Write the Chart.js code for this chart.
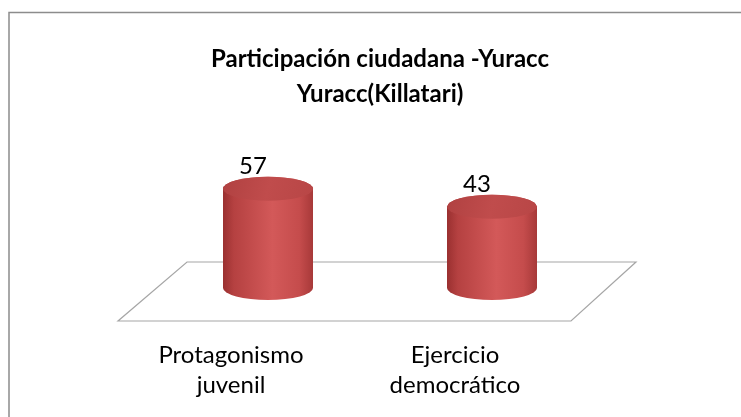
<!DOCTYPE html>
<html>
<head>
<meta charset="utf-8">
<script src="https://cdn.jsdelivr.net/npm/chart.js@4/dist/chart.umd.min.js"></script>
<style>
  html, body { margin: 0; padding: 0; background: #ffffff; }
  #c { display: block; }
</style>
</head>
<body>
<canvas id="c" width="741" height="417"></canvas>
<script>
const categories = [["Protagonismo", "juvenil"], ["Ejercicio", "democrático"]];
const values = [57, 43];
const titleLines = ["Participación ciudadana -Yuracc", "Yuracc(Killatari)"];

const FONT = "Lato, 'Open Sans', sans-serif";

const framePlugin = {
  id: 'frame',
  beforeDraw(chart) {
    const ctx = chart.ctx;
    ctx.save();
    ctx.fillStyle = '#ffffff';
    ctx.fillRect(0, 0, chart.width, chart.height);
    ctx.strokeStyle = '#8c8c8c';
    ctx.lineWidth = 1.5;
    ctx.strokeRect(9, 12.5, chart.width + 20, chart.height + 20);
    ctx.restore();
  }
};

const floorPlugin = {
  id: 'floor',
  beforeDatasetsDraw(chart) {
    const ctx = chart.ctx;
    const a = chart.chartArea;
    const basePx = chart.scales.y.getPixelForValue(chart.scales.y.min);
    const backY = basePx - 26, frontY = basePx + 33;
    ctx.save();
    ctx.beginPath();
    ctx.moveTo(a.left + 31, backY);
    ctx.lineTo(a.right + 32, backY);
    ctx.lineTo(a.right - 33, frontY);
    ctx.lineTo(a.left - 38, frontY);
    ctx.closePath();
    ctx.fillStyle = '#ffffff';
    ctx.fill();
    ctx.strokeStyle = '#a6a6a6';
    ctx.lineWidth = 1.2;
    ctx.stroke();
    ctx.restore();
  }
};

function drawCylinder(ctx, x, top, base, w) {
  const rx = w / 2, ry = 12;
  const left = x - rx, right = x + rx;
  const g = ctx.createLinearGradient(left, 0, right, 0);
  g.addColorStop(0, '#9a3030');
  g.addColorStop(0.12, '#b54141');
  g.addColorStop(0.55, '#d35959');
  g.addColorStop(0.85, '#c54c4c');
  g.addColorStop(1, '#a73939');
  ctx.beginPath();
  ctx.moveTo(left, top);
  ctx.lineTo(left, base);
  ctx.ellipse(x, base, rx, ry, 0, Math.PI, 0, true);
  ctx.lineTo(right, top);
  ctx.ellipse(x, top, rx, ry, 0, 0, Math.PI, true);
  ctx.closePath();
  ctx.fillStyle = g;
  ctx.fill();
  const t = ctx.createLinearGradient(left, top - ry, right, top + ry);
  t.addColorStop(0, '#b04141');
  t.addColorStop(0.5, '#c04c4c');
  t.addColorStop(1, '#b84646');
  ctx.beginPath();
  ctx.ellipse(x, top, rx, ry, 0, 0, Math.PI * 2);
  ctx.fillStyle = t;
  ctx.fill();
}

const cylinderPlugin = {
  id: 'cylinders',
  afterDatasetsDraw(chart) {
    const ctx = chart.ctx;
    const meta = chart.getDatasetMeta(0);
    ctx.save();
    meta.data.forEach((bar) => {
      const p = bar.getProps(['x', 'y', 'base', 'width'], true);
      drawCylinder(ctx, p.x, p.y, p.base, p.width);
    });
    ctx.fillStyle = '#000000';
    ctx.font = '24px ' + FONT;
    ctx.textAlign = 'center';
    ctx.textBaseline = 'alphabetic';
    meta.data.forEach((bar, i) => {
      const p = bar.getProps(['x', 'y'], true);
      ctx.fillText(String(values[i]), p.x - 15, p.y - 15);
    });
    ctx.restore();
  }
};

new Chart(document.getElementById('c'), {
  type: 'bar',
  data: {
    labels: categories,
    datasets: [{
      data: values,
      base: -20,
      backgroundColor: 'rgba(0,0,0,0)',
      borderWidth: 0,
      barThickness: 90
    }]
  },
  options: {
    responsive: false,
    animation: false,
    devicePixelRatio: 1,
    layout: { padding: { left: 156, right: 137, top: 0, bottom: 17 } },
    plugins: {
      legend: { display: false },
      tooltip: { enabled: false },
      title: {
        display: true,
        text: titleLines,
        color: '#000000',
        font: { family: FONT, size: 24, weight: 'bold', lineHeight: 1.46 },
        padding: { top: 42, bottom: 47 }
      }
    },
    scales: {
      x: {
        grid: { display: false, drawTicks: false },
        border: { display: false },
        afterFit(scale) { scale.height = 112; },
        ticks: {
          color: '#000000',
          font: { family: FONT, size: 24, lineHeight: 1.25 },
          padding: 52,
          labelOffset: -37,
          maxRotation: 0,
          autoSkip: false
        }
      },
      y: { display: false, min: -20, max: 80 }
    }
  },
  plugins: [framePlugin, floorPlugin, cylinderPlugin]
});
</script>
</body>
</html>
